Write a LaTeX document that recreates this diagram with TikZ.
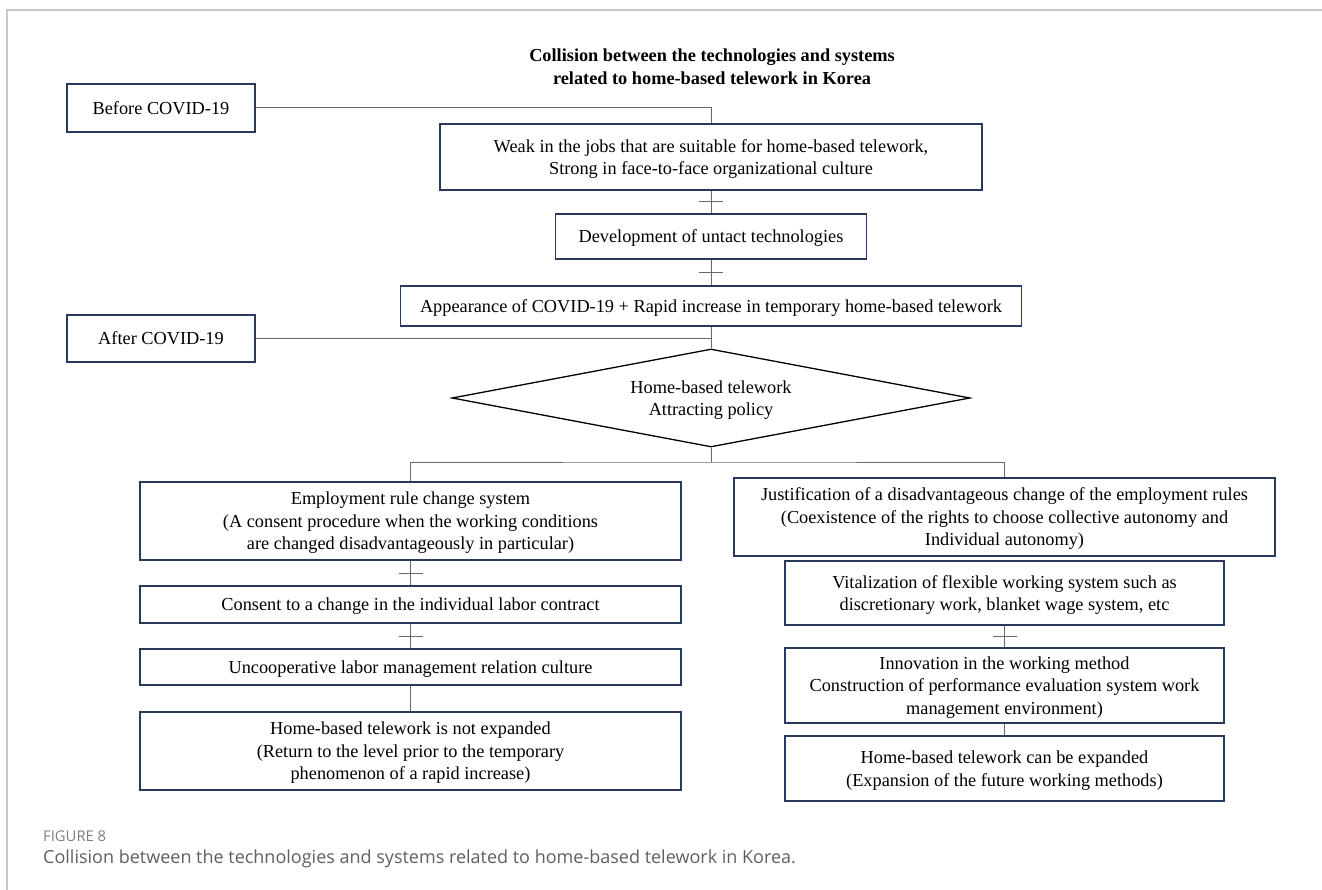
\documentclass[tikz,border=0pt]{standalone}
\usepackage{fontspec}
\setmainfont{Liberation Serif}
\newfontfamily\capfont{Open Sans}
\usepackage{tikz}
\usepackage{xcolor}
\usetikzlibrary{shapes.geometric,decorations.markings}
\definecolor{boxline}{RGB}{44,57,95}
\definecolor{connline}{RGB}{105,105,105}
\definecolor{frameline}{RGB}{200,200,200}
\definecolor{capgray}{RGB}{95,95,95}
\definecolor{labgray}{RGB}{125,125,125}

\begin{document}
\begin{tikzpicture}[x=1pt,y=-1pt]
		\tikzstyle{every node}+=[inner sep=0pt]
		\tikzstyle{box}=[draw=boxline, line width=1.4pt, align=center, text depth=0pt, font=\fontsize{18.3}{22.5}\selectfont]
		\tikzstyle{conn}=[draw=connline, line width=1pt]
		\tikzstyle{crossed}=[postaction={decorate, decoration={markings, mark=at position 0.5 with {\draw[conn] (0,-12pt) -- (0,12pt);}}}]
		\useasboundingbox (0,0) rectangle (1322,890);
		\draw [frameline, line width=1.2pt] (7,890) -- (7,10) -- (1322,10);
		\node [font=\bfseries\fontsize{18.3}{23}\selectfont, align=center] (title) at (712,66.5) {Collision between the technologies and systems\\related to home-based telework in Korea};
		\node [box, minimum width=188, minimum height=48] (before) at (161,108) {Before COVID-19};
		\node [box, minimum width=542, minimum height=66] (weak) at (711,157) {Weak in the jobs that are suitable for home-based telework,\\Strong in face-to-face organizational culture};
		\node [box, minimum width=311, minimum height=45] (dev) at (711,236.5) {Development of untact technologies};
		\node [box, minimum width=621, minimum height=40] (app) at (711,306) {Appearance of COVID-19 + Rapid increase in temporary home-based telework};
		\node [box, minimum width=188, minimum height=47] (after) at (161,338.5) {After COVID-19};
		\node [diamond, draw=black, line width=1.3pt, minimum width=518, minimum height=98, aspect=5.3, align=center, text depth=0pt, font=\fontsize{18.3}{22.5}\selectfont] (dia) at (711,398) {Home-based telework\\Attracting policy};
		\coordinate (split) at (711,462);
		\node [box, minimum width=541, minimum height=78] (emp) at (410.5,521) {Employment rule change system\\(A consent procedure when the working conditions\\are changed disadvantageously in particular)};
		\node [box, minimum width=541, minimum height=37] (consent) at (410.5,604.5) {Consent to a change in the individual labor contract};
		\node [box, minimum width=541, minimum height=36] (uncoop) at (410.5,667) {Uncooperative labor management relation culture};
		\node [box, minimum width=541, minimum height=78] (notexp) at (410.5,751) {Home-based telework is not expanded\\(Return to the level prior to the temporary\\phenomenon of a rapid increase)};
		\node [box, minimum width=541, minimum height=78] (just) at (1004.5,517) {Justification of a disadvantageous change of the employment rules\\(Coexistence of the rights to choose collective autonomy and\\Individual autonomy)};
		\node [box, minimum width=439, minimum height=64] (vital) at (1004.5,593) {Vitalization of flexible working system such as\\discretionary work, blanket wage system, etc};
		\node [box, minimum width=439, minimum height=75] (innov) at (1004.5,685.5) {Innovation in the working method\\Construction of performance evaluation system work\\management environment)};
		\node [box, minimum width=439, minimum height=65] (canexp) at (1004.5,768.5) {Home-based telework can be expanded\\(Expansion of the future working methods)};
		\draw [conn] (before.east) -| (weak.north);
		\draw [conn, crossed] (weak.south) -- (dev.north);
		\draw [conn, crossed] (dev.south) -- (app.north);
		\draw [conn] (app.south) -- (dia.north);
		\draw [conn] (after.east) -- (after.east -| dia.north);
		\draw [conn] (dia.south) -- (split);
		\draw [conn] (emp.north) |- (split) -| (just.north);
		\draw [conn, crossed] (emp.south) -- (consent.north);
		\draw [conn, crossed] (consent.south) -- (uncoop.north);
		\draw [conn] (uncoop.south) -- (notexp.north);
		\draw [conn, crossed] (vital.south) -- (innov.north);
		\draw [conn] (innov.south) -- (canexp.north);
		\node [anchor=west, text=labgray, font=\capfont\fontsize{14.8}{17}\selectfont] (figlabel) at (43,836) {FIGURE 8};
		\node [anchor=west, text=capgray, font=\capfont\fontsize{18}{21}\selectfont] (caption) at (43,859) {Collision between the technologies and systems related to home-based telework in Korea.};
\end{tikzpicture}
\end{document}
